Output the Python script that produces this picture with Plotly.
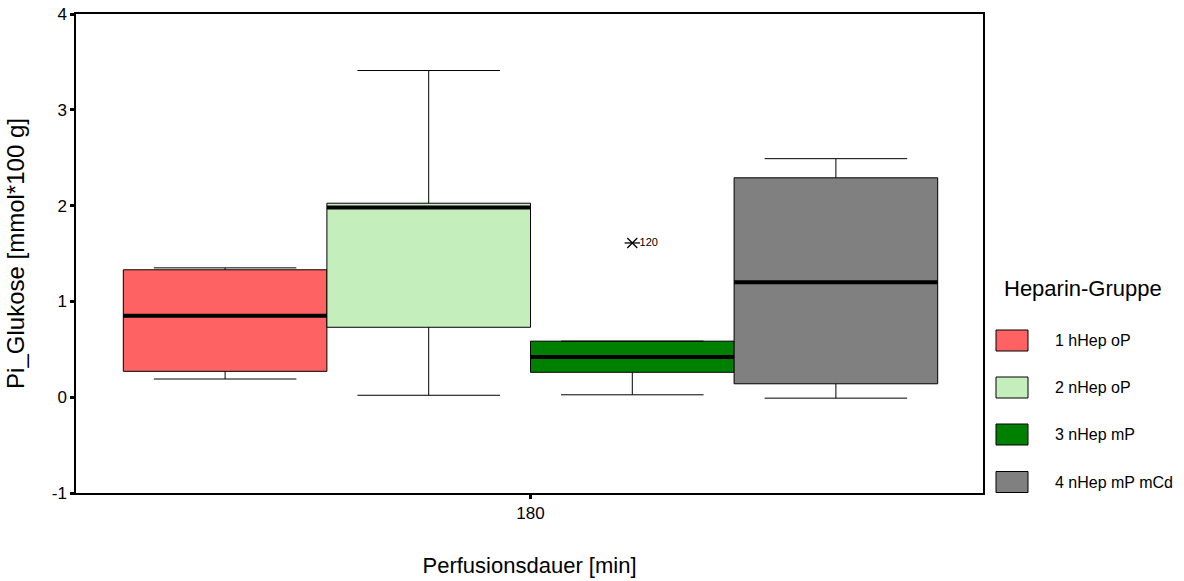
import plotly.graph_objects as go

# ---- data ----
groups = ["1 hHep oP", "2 nHep oP", "3 nHep mP", "4 nHep mP mCd"]
lower_whisker = [0.19, 0.02, 0.025, -0.01]
q1_vals = [0.27, 0.73, 0.26, 0.14]
median_vals = [0.85, 1.98, 0.42, 1.20]
q3_vals = [1.33, 2.025, 0.585, 2.29]
upper_whisker = [1.35, 3.41, 0.585, 2.49]
colors = ["#FF6262", "#C4EEBB", "#008000", "#808080"]

outlier_group = [2]          # index into groups
outlier_value = [1.61]
outlier_label = ["120"]

x_category = "180"
x_title = "Perfusionsdauer [min]"
y_title = "Pi_Glukose [mmol*100 g]"
legend_title = "Heparin-Gruppe"
y_ticks = [-1, 0, 1, 2, 3, 4]
y_tick_labels = ["-1", "0", "1", "2", "3", "4"]

# ---- layout geometry ----
W, H = 1184, 581
ML, MR, MT, MB = 76, 201, 14, 88
PW, PH = W - ML - MR, H - MT - MB


def px_x(p):
    return (p - ML) / PW


def px_y(p):
    return (H - MB - p) / PH


FONT = "Liberation Sans, Arial, sans-serif"

fig = go.Figure()
n = len(groups)
positions = [i + 1 for i in range(n)]

for i in range(n):
    fig.add_trace(go.Box(
        x=[positions[i]],
        q1=[q1_vals[i]], median=[median_vals[i]], q3=[q3_vals[i]],
        lowerfence=[lower_whisker[i]], upperfence=[upper_whisker[i]],
        width=1, whiskerwidth=0.7,
        fillcolor=colors[i], line=dict(color="black", width=1),
        boxpoints=False, showlegend=False, name=groups[i],
    ))
    # thick median line
    fig.add_trace(go.Scatter(
        x=[positions[i] - 0.5, positions[i] + 0.5],
        y=[median_vals[i], median_vals[i]],
        mode="lines", line=dict(color="black", width=4),
        showlegend=False, hoverinfo="skip",
    ))

# outlier: SPSS-style asterisk (X plus horizontal bar) with case label
out_x = [positions[g] for g in outlier_group]
fig.add_trace(go.Scatter(
    x=out_x, y=outlier_value, mode="markers",
    marker=dict(symbol="line-ew-open", size=11, color="black",
                line=dict(color="black", width=1.3)),
    showlegend=False, hoverinfo="skip",
))
fig.add_trace(go.Scatter(
    x=out_x, y=outlier_value,
    mode="markers+text", text=outlier_label, textposition="middle right",
    textfont=dict(family=FONT, size=11, color="black"),
    marker=dict(symbol="x-thin-open", size=10, color="black",
                line=dict(color="black", width=1.3)),
    showlegend=False,
))

# x range so boxes fill the group the way the reference does
box_px = 203.6
x_left = 0.5 - (123.3 - ML) / box_px
x_right = n + 0.5 + (ML + PW - 937.7) / box_px
center = (positions[0] + positions[-1]) / 2

fig.update_xaxes(
    range=[x_left, x_right], tickvals=[center], ticktext=[x_category],
    showline=True, linecolor="black", linewidth=1.5, mirror=True,
    ticks="outside", ticklen=4, tickwidth=3, tickcolor="black",
    showgrid=False, zeroline=False, automargin=False,
    tickfont=dict(family=FONT, size=17, color="black"),
    title=dict(text=x_title, font=dict(family=FONT, size=22, color="black"), standoff=35),
)
fig.update_yaxes(
    range=[-1, 4], tickvals=y_ticks, ticktext=y_tick_labels,
    showline=True, linecolor="black", linewidth=1.5, mirror=True,
    ticks="outside", ticklen=4, tickwidth=3, tickcolor="black",
    showgrid=False, zeroline=False, automargin=False,
    tickfont=dict(family=FONT, size=17, color="black"),
    title=dict(text=y_title, font=dict(family=FONT, size=24, color="black"), standoff=20),
)

# manual legend
shapes = []
annotations = [dict(
    x=px_x(1002), y=px_y(288), xref="paper", yref="paper",
    text=legend_title, showarrow=False, xanchor="left", yanchor="middle",
    font=dict(family=FONT, size=22, color="black"),
)]
legend_y = [340.5, 387.5, 434.5, 482]
for i in range(n):
    yc = legend_y[i]
    shapes.append(dict(
        type="rect", xref="paper", yref="paper",
        x0=px_x(996), x1=px_x(1028), y0=px_y(yc + 10.5), y1=px_y(yc - 10.5),
        fillcolor=colors[i], line=dict(color="black", width=1),
    ))
    annotations.append(dict(
        x=px_x(1053), y=px_y(yc), xref="paper", yref="paper",
        text=groups[i], showarrow=False, xanchor="left", yanchor="middle",
        font=dict(family=FONT, size=16, color="black"),
    ))

fig.update_layout(
    width=W, height=H,
    margin=dict(l=ML, r=MR, t=MT, b=MB, pad=0),
    paper_bgcolor="white", plot_bgcolor="white",
    shapes=shapes, annotations=annotations,
    boxmode="overlay", showlegend=False,
)

fig.write_html("out.html")
